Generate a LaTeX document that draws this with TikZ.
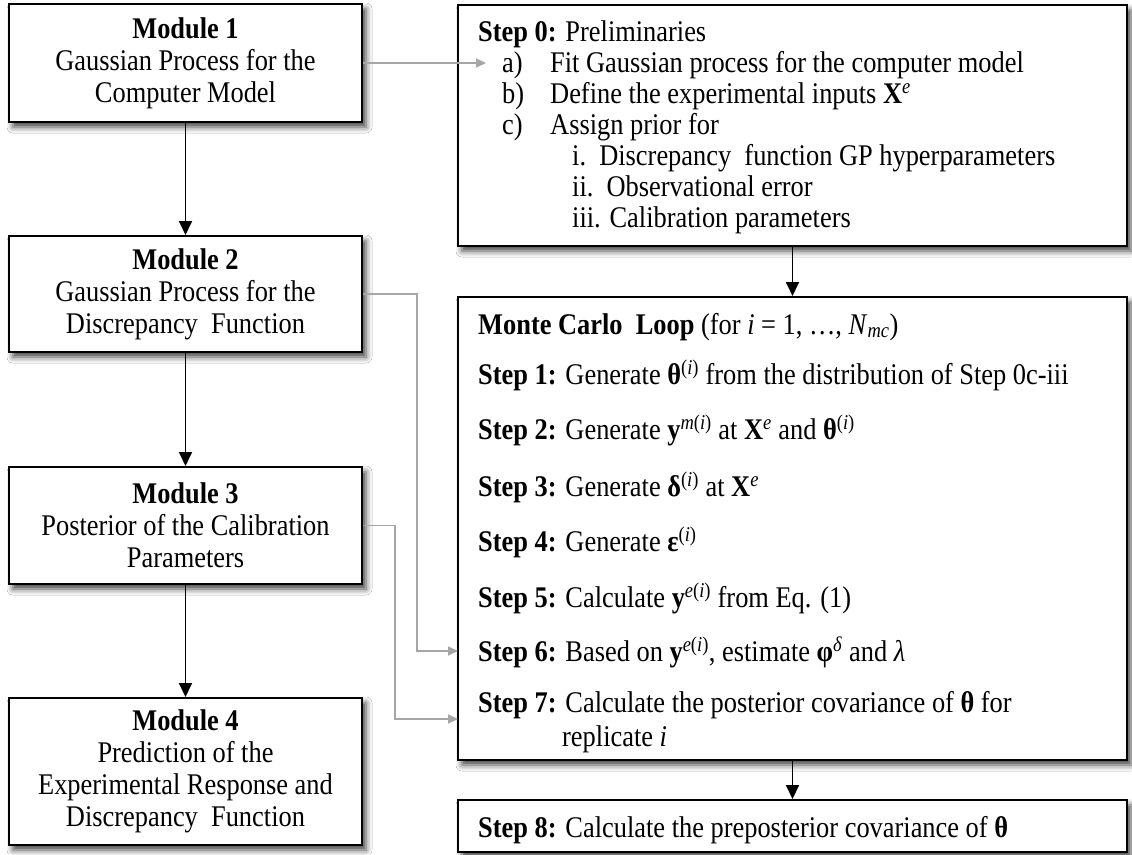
\documentclass[tikz,border=0pt]{standalone}
\usepackage{fontspec}
\setmainfont{Liberation Serif}[FakeStretch=0.88]
\usetikzlibrary{arrows.meta,shadows.blur}
\begin{document}
\begin{tikzpicture}[x=1pt,y=-1pt,
  box/.style={draw=black, line width=2pt, fill=white, inner sep=0pt,
    blur shadow={shadow xshift=4pt, shadow yshift=-5pt, shadow blur radius=6pt, shadow opacity=75}},
  modbox/.style={box, minimum width=353pt, align=center,
    font=\fontsize{30}{32}\selectfont},
  stepbox/.style={box, minimum width=669pt},
  txt/.style={anchor=base west, inner sep=0pt, font=\fontsize{30}{32}\selectfont},
  blackarrow/.style={line width=1.8pt, -{Triangle[length=14pt,width=13pt]}},
  grayarrow/.style={draw={rgb,255:red,166;green,166;blue,166}, line width=1.6pt, -{Triangle[length=10pt,width=9pt]}}
]
\useasboundingbox[fill=white] (0,0) rectangle (1132,854);

% Modules
\node[modbox, minimum height=118pt] (m1) at (185.5,63) {\textbf{Module 1}\\Gaussian Process for the\\Computer Model};
\node[modbox, minimum height=116pt] (m2) at (185.5,294) {\textbf{Module 2}\\Gaussian Process for the\\Discrepancy\ \ Function};
\node[modbox, minimum height=117pt] (m3) at (185.5,525.5) {\textbf{Module 3}\\Posterior of the Calibration\\Parameters};
\node[modbox, minimum height=147pt] (m4) at (185.5,771.5) {\textbf{Module 4}\\Prediction of the\\Experimental\ Response and\\Discrepancy\ \ Function};

% Step boxes
\node[stepbox, minimum height=241pt] (s0) at (792.5,125.5) {};
\node[stepbox, minimum height=463pt] (mc) at (792.5,528.5) {};
\node[stepbox, minimum height=52pt] (s8) at (792.5,826) {};

% Step 0 text
\node[txt] (t00) at (478,41) {\textbf{Step 0:} Preliminaries};
\node[txt] (t0a) at (502,72) {\makebox[48pt][l]{a)}Fit Gaussian process for the computer model};
\node[txt] (t0b) at (502,103) {\makebox[48pt][l]{b)}Define the experimental inputs \textbf{X}\textsuperscript{\textit{e}}};
\node[txt] (t0c) at (502,134) {\makebox[48pt][l]{c)}Assign prior for};
\node[txt] (t0i) at (572,165) {i.\ \ Discrepancy\ \ function GP hyperparameters};
\node[txt] (t0ii) at (572,196) {ii.\ \ Observational error};
\node[txt] (t0iii) at (572,227) {iii. Calibration parameters};

% Monte Carlo text
\node[txt] (tmc) at (478,334) {\textbf{Monte Carlo\ \ Loop} (for \textit{i} = 1, …, \textit{N}\textsubscript{\textit{mc}})};
\node[txt] (t1) at (478,384) {\textbf{Step 1:} Generate\ \textbf{θ}\textsuperscript{(\textit{i})} from the distribution of Step 0c-iii};
\node[txt] (t2) at (478,439) {\textbf{Step 2:} Generate \textbf{y}\textsuperscript{\textit{m}(\textit{i})} at \textbf{X}\textsuperscript{\textit{e}} and \textbf{θ}\textsuperscript{(\textit{i})}};
\node[txt] (t3) at (478,496) {\textbf{Step 3:} Generate\ \textbf{δ}\textsuperscript{(\textit{i})} at \textbf{X}\textsuperscript{\textit{e}}};
\node[txt] (t4) at (478,551) {\textbf{Step 4:} Generate \textbf{ε}\textsuperscript{(\textit{i})}};
\node[txt] (t5) at (478,607) {\textbf{Step 5:} Calculate \textbf{y}\textsuperscript{\textit{e}(\textit{i})} from Eq. (1)};
\node[txt] (t6) at (478,661) {\textbf{Step 6:} Based on \textbf{y}\textsuperscript{\textit{e}(\textit{i})}, estimate \textbf{φ}\textsuperscript{\textit{δ}} and \textit{λ}};
\node[txt] (t7) at (478,712) {\textbf{Step 7:} Calculate the posterior covariance\ of \textbf{θ} for};
\node[txt] (t7b) at (562,746) {replicate \textit{i}};

% Step 8 text
\node[txt] (t8) at (478,837) {\textbf{Step 8:} Calculate the preposterior covariance\ of \textbf{θ}};

% Black arrows
\draw[blackarrow] (m1.south) -- (m2.north);
\draw[blackarrow] (m2.south) -- (m3.north);
\draw[blackarrow] (m3.south) -- (m4.north);
\draw[blackarrow] (s0.south) -- (mc.north);
\draw[blackarrow] (mc.south) -- (s8.north);

% Gray connectors
\coordinate (a1) at (486,63);
\coordinate (s6in) at (458,651);
\coordinate (s7in) at (458,719);
\draw[grayarrow] (m1.east) -- (a1);
\draw[grayarrow] (m2.east) -- ++(54,0) |- (s6in);
\draw[grayarrow] (m3.east) -- ++(32,0) |- (s7in);
\end{tikzpicture}
\end{document}
